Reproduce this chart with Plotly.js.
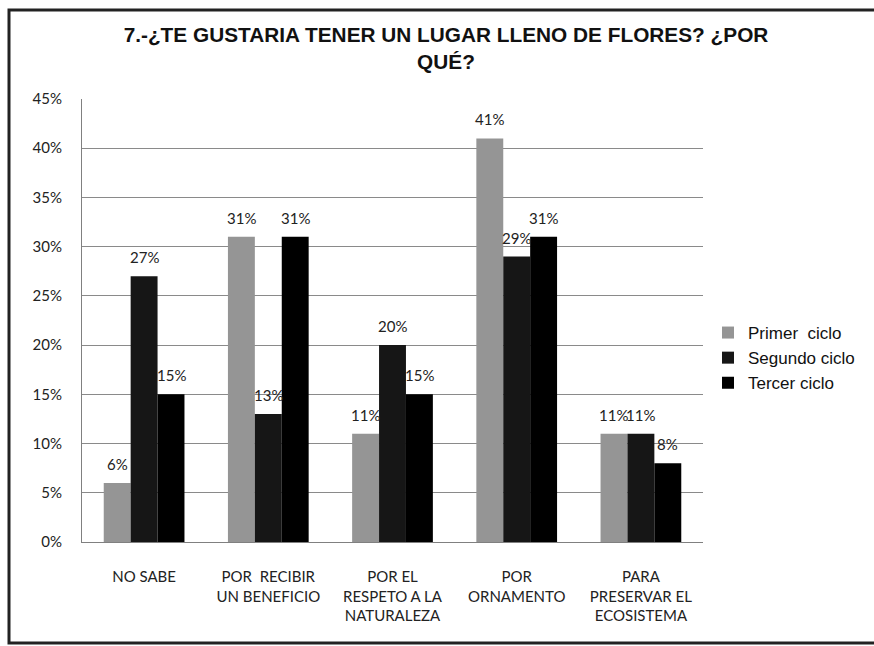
<!DOCTYPE html>
<html>
<head>
<meta charset="utf-8">
<script src="https://cdn.plot.ly/plotly-3.0.1.min.js"></script>
<style>html,body{margin:0;padding:0;background:#fff;}#chart{width:874px;height:646px;}</style>
</head>
<body>
<div id="chart"></div>
<script>
const categories = ["NO SABE", "POR  RECIBIR<br>UN BENEFICIO", "POR EL<br>RESPETO A LA<br>NATURALEZA", "POR<br>ORNAMENTO", "PARA<br>PRESERVAR EL<br>ECOSISTEMA"];
const seriesNames = ["Primer  ciclo", "Segundo ciclo", "Tercer ciclo"];
const primer = [6, 31, 11, 41, 11];
const segundo = [27, 13, 20, 29, 11];
const tercer = [15, 31, 15, 31, 8];
const yTicks = [0, 5, 10, 15, 20, 25, 30, 35, 40, 45];
const yTickLabels = ["0%", "5%", "10%", "15%", "20%", "25%", "30%", "35%", "40%", "45%"];

const seriesValues = [primer, segundo, tercer];
const colors = ["#959595", "#161616", "#000000"];
const bargap = 0.35;
const nSeries = seriesValues.length;
const barW = (1 - bargap) / nSeries;

const traces = seriesValues.map((vals, i) => ({
  type: "bar",
  name: seriesNames[i],
  x: categories,
  y: vals,
  legendgroup: "g" + i,
  marker: {color: colors[i]},
  hoverinfo: "skip"
}));

const annotations = [];
seriesValues.forEach((vals, i) => {
  vals.forEach((v, j) => {
    annotations.push({
      x: j + (i - (nSeries - 1) / 2) * barW,
      y: v,
      xref: "x", yref: "y",
      text: v + "%",
      showarrow: false,
      yanchor: "middle",
      yshift: 19,
      font: {family: "Lato, sans-serif", size: 15, color: "#222"}
    });
  });
});

const layout = {
  width: 874, height: 646,
  margin: {l: 82, r: 171, t: 99, b: 104},
  paper_bgcolor: "#fff", plot_bgcolor: "#fff",
  barmode: "group", bargap: bargap, bargroupgap: 0,
  title: {
    text: "7.-¿TE GUSTARIA TENER UN LUGAR LLENO DE FLORES? ¿POR<br>QUÉ?",
    font: {family: "Liberation Sans, Arial, sans-serif", size: 20.8, color: "#111", weight: 700},
    x: 446 / 874, xanchor: "center", xref: "container",
    y: 1 - 42 / 646, yanchor: "middle", yref: "container"
  },
  xaxis: {
    type: "category",
    showgrid: false, zeroline: false,
    showline: true, linecolor: "#808080", linewidth: 1,
    ticks: "", ticklabelstandoff: 21,
    tickfont: {family: "Lato, sans-serif", size: 15, color: "#222"}
  },
  yaxis: {
    range: [0, 45],
    tickvals: yTicks, ticktext: yTickLabels,
    showgrid: true, gridcolor: "#8a8a8a", gridwidth: 1,
    zeroline: false,
    showline: true, linecolor: "#808080", linewidth: 1,
    ticks: "", ticklabelstandoff: 16,
    tickfont: {family: "Lato, sans-serif", size: 15, color: "#222"}
  },
  legend: {
    x: (708 - 82) / 621, xanchor: "left",
    y: (542 - 315) / 443, yanchor: "top",
    font: {family: "Liberation Sans, Arial, sans-serif", size: 17, color: "#111"},
    traceorder: "normal",
    tracegroupgap: 10,
    bgcolor: "rgba(0,0,0,0)"
  },
  annotations: annotations,
  shapes: [{
    type: "rect", xref: "paper", yref: "paper",
    x0: (9 - 82) / 621, x1: (880 - 82) / 621,
    y0: (542 - 643) / 443, y1: (542 - 10) / 443,
    line: {color: "#222", width: 3}
  }]
};

Plotly.newPlot("chart", traces, layout, {displayModeBar: false, staticPlot: true});
</script>
</body>
</html>
